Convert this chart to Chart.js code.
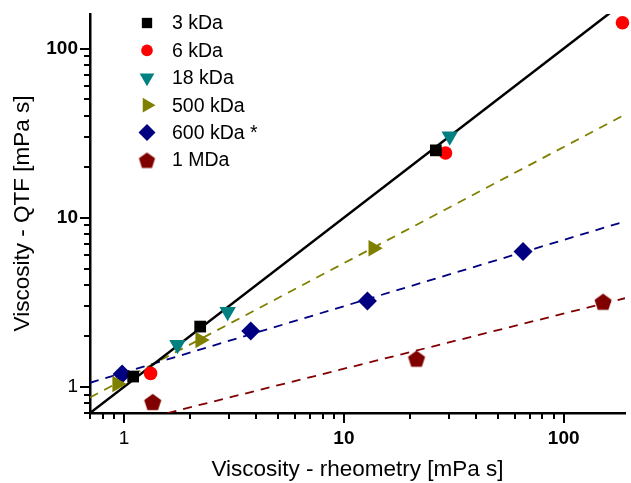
<!DOCTYPE html>
<html>
<head>
<meta charset="utf-8">
<script src="https://cdn.jsdelivr.net/npm/chart.js@4.4.0/dist/chart.umd.min.js"></script>
<style>
  html, body { margin: 0; padding: 0; background: #fff; }
  #chart { display: block; }
</style>
</head>
<body>
<canvas id="chart" width="631" height="483"></canvas>
<script>
        // Measured points: viscosity from rheometry (x) vs QTF (y), mPa s
        const x3k = [1.10, 2.22, 26.2];
        const y3k = [1.15, 2.27, 25.0];
        const x6k = [1.32, 29.0, 185];
        const y6k = [1.20, 24.1, 142];
        const x18k = [1.75, 2.96, 30.3];
        const y18k = [1.77, 2.78, 30.3];
        const x500k = [0.93, 2.22, 13.6];
        const y500k = [1.04, 1.89, 6.6];
        const x600k = [0.98, 3.77, 12.8, 65.3];
        const y600k = [1.19, 2.14, 3.22, 6.3];
        const x1M = [1.35, 21.4, 151];
        const y1M = [0.815, 1.47, 3.19];

        // Fit lines (end points)
        const fitX = [0.7, 190];
        const fitIdeal = [0.7, 190];
        const fit500k = [0.865, 40.7];
        const fit600k = [1.056, 9.5];
        const fit1M = [0.537, 3.34];

        // Axes
        const xRange = [0.7, 190];
        const yRange = [0.7, 160];
        const xTickLabels = [1, 10, 100];
        const yTickLabels = [1, 10, 100];
        const legendLabels = ['3 kDa', '6 kDa', '18 kDa', '500 kDa', '600 kDa *', '1 MDa'];

        const FONT = '"Liberation Sans", Arial, Helvetica, sans-serif';

        function pairs(xs, ys) {
            return xs.map((x, i) => ({ x: x, y: ys[i] }));
        }

        // 1..9 x 10^n inside the range, for the minor tick marks
        function logTicks(min, max) {
            const out = [];
            for (let e = -1; e <= 3; e++) {
                for (let m = 1; m <= 9; m++) {
                    const v = m * Math.pow(10, e);
                    if (v >= min - 1e-9 && v <= max + 1e-9) out.push({ value: v });
                }
            }
            return out;
        }

        // Pentagon marker (no built-in point style for it)
        function makePentagon(r, color) {
            const size = Math.ceil(r * 2) + 2;
            const c = document.createElement('canvas');
            c.width = size;
            c.height = size;
            const g = c.getContext('2d');
            g.fillStyle = color;
            g.beginPath();
            for (let i = 0; i < 5; i++) {
                const a = -Math.PI / 2 + i * 2 * Math.PI / 5;
                const px = size / 2 + r * Math.cos(a);
                const py = size / 2 + 1 + r * Math.sin(a);
                if (i === 0) g.moveTo(px, py); else g.lineTo(px, py);
            }
            g.closePath();
            g.fill();
            return c;
        }

        const pentagon = makePentagon(9, '#800000');
        const pentagonSmall = makePentagon(8.5, '#800000');

        function pointSet(label, xs, ys, color, style, radius, rotation) {
            return {
                type: 'scatter',
                label: label,
                data: pairs(xs, ys),
                backgroundColor: color,
                borderColor: color,
                borderWidth: 0,
                pointStyle: style,
                pointRadius: radius,
                pointHoverRadius: radius,
                rotation: rotation || 0,
                showLine: false,
                clip: false,
                order: 0
            };
        }

        function fitSet(ys, color, dash, width) {
            return {
                type: 'line',
                label: '',
                data: pairs(fitX, ys),
                borderColor: color,
                borderWidth: width,
                borderDash: dash,
                pointRadius: 0,
                fill: false,
                tension: 0,
                order: 10
            };
        }

        // Tick marks: long at decades, short in between, drawn outside the axes
        const tickMarks = {
            id: 'tickMarks',
            afterDraw(chart) {
                const { ctx, chartArea } = chart;
                const xs = chart.scales.x;
                const ys = chart.scales.y;
                ctx.save();
                ctx.strokeStyle = '#000';
                ctx.lineWidth = 2;
                xs.ticks.forEach(t => {
                    const px = Math.round(xs.getPixelForValue(t.value));
                    const len = xTickLabels.includes(t.value) ? 10 : 6;
                    ctx.beginPath();
                    ctx.moveTo(px, chartArea.bottom);
                    ctx.lineTo(px, chartArea.bottom + len);
                    ctx.stroke();
                });
                ys.ticks.forEach(t => {
                    const py = Math.round(ys.getPixelForValue(t.value));
                    const len = yTickLabels.includes(t.value) ? 10 : 6;
                    ctx.beginPath();
                    ctx.moveTo(chartArea.left, py);
                    ctx.lineTo(chartArea.left - len, py);
                    ctx.stroke();
                });
                ctx.restore();
            }
        };

        // Legend inside the plot, top left
        const insideLegend = {
            id: 'insideLegend',
            afterDraw(chart) {
                const ctx = chart.ctx;
                ctx.save();
                ctx.font = '19.5px ' + FONT;
                ctx.textBaseline = 'middle';
                ctx.textAlign = 'left';
                legendLabels.forEach((label, i) => {
                    const ds = chart.data.datasets[i];
                    const y = 23 + i * 27.4;
                    ctx.fillStyle = ds.backgroundColor;
                    const style = ds.pointStyle === pentagon ? pentagonSmall : ds.pointStyle;
                    Chart.helpers.drawPoint(ctx, {
                        pointStyle: style,
                        rotation: ds.rotation,
                        radius: ds.pointRadius - 1,
                        borderWidth: 0
                    }, 147, y);
                    ctx.fillStyle = '#000';
                    ctx.fillText(label, 172, y + 1);
                });
                ctx.restore();
            }
        };

        function tickFont(c) {
            const v = c.tick ? c.tick.value : 0;
            return { family: FONT, size: 19, weight: v === 1 ? 'normal' : 'bold' };
        }

        window.addEventListener('load', function() {
            const ctx = document.getElementById('chart').getContext('2d');
            new Chart(ctx, {
                data: {
                    datasets: [
                        pointSet('3 kDa', x3k, y3k, '#000000', 'rect', 8.3),
                        pointSet('6 kDa', x6k, y6k, '#ff0000', 'circle', 6.8),
                        pointSet('18 kDa', x18k, y18k, '#008080', 'triangle', 9.5, 180),
                        pointSet('500 kDa', x500k, y500k, '#808000', 'triangle', 9.5, 90),
                        pointSet('600 kDa *', x600k, y600k, '#000080', 'rectRot', 9.5),
                        pointSet('1 MDa', x1M, y1M, '#800000', pentagon, 9),
                        fitSet(fitIdeal, '#000000', [], 2.5),
                        fitSet(fit500k, '#808000', [9, 7], 1.8),
                        fitSet(fit600k, '#000080', [9, 7], 1.8),
                        fitSet(fit1M, '#800000', [9, 7], 1.8)
                    ]
                },
                options: {
                    responsive: false,
                    animation: false,
                    devicePixelRatio: 1,
                    layout: { autoPadding: false, padding: { top: 14, right: 6, left: 0, bottom: 0 } },
                    plugins: {
                        legend: { display: false },
                        tooltip: { enabled: false }
                    },
                    scales: {
                        x: {
                            type: 'logarithmic',
                            min: xRange[0],
                            max: xRange[1],
                            afterBuildTicks: s => { s.ticks = logTicks(xRange[0], xRange[1]); },
                            afterFit: s => { s.height = 70; s.paddingLeft = 0; s.paddingRight = 0; },
                            grid: { display: false, drawTicks: false },
                            border: { display: true, color: '#000', width: 2.5 },
                            ticks: {
                                autoSkip: false,
                                maxRotation: 0,
                                padding: 14,
                                color: '#000',
                                font: tickFont,
                                callback: v => xTickLabels.includes(v) ? String(v) : ''
                            },
                            title: {
                                display: true,
                                text: 'Viscosity - rheometry [mPa s]',
                                color: '#000',
                                font: { family: FONT, size: 22.5 },
                                padding: { top: 0, bottom: 0 }
                            }
                        },
                        y: {
                            type: 'logarithmic',
                            min: yRange[0],
                            max: yRange[1],
                            afterBuildTicks: s => { s.ticks = logTicks(yRange[0], yRange[1]); },
                            afterFit: s => { s.width = 90; s.paddingTop = 0; s.paddingBottom = 0; },
                            grid: { display: false, drawTicks: false },
                            border: { display: true, color: '#000', width: 2.5 },
                            ticks: {
                                autoSkip: false,
                                padding: 12,
                                color: '#000',
                                font: tickFont,
                                callback: v => yTickLabels.includes(v) ? String(v) : ''
                            },
                            title: {
                                display: true,
                                text: 'Viscosity - QTF [mPa s]',
                                color: '#000',
                                font: { family: FONT, size: 22.5 },
                                padding: { top: 9.5, bottom: 0 }
                            }
                        }
                    }
                },
                plugins: [tickMarks, insideLegend]
            });
        });
</script>
</body>
</html>
